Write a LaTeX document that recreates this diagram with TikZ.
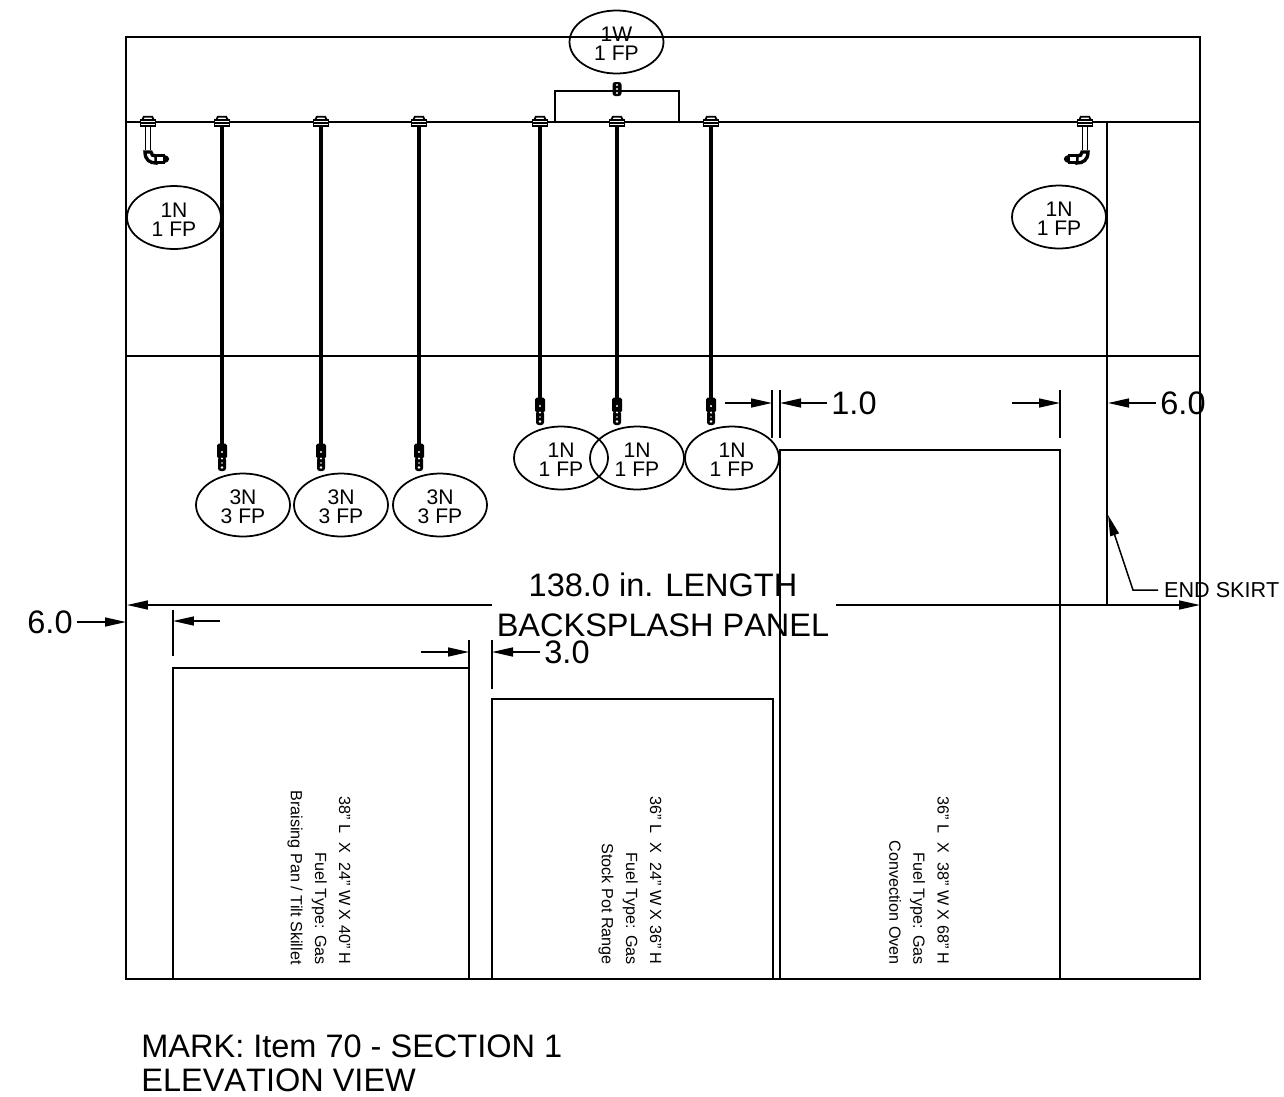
\documentclass[tikz,border=0pt]{standalone}
\usepackage{fontspec}
\setmainfont[Kerning=Off]{Liberation Sans}
\usetikzlibrary{arrows.meta,shapes.geometric,positioning,calc}
\tikzstyle{outlet}=[ellipse, draw=black, line width=1pt, minimum width=1.88cm, minimum height=1.26cm, inner sep=0pt, align=center, font=\fontsize{12}{11}\selectfont]
\tikzstyle{dimtxt}=[inner sep=0pt, outer sep=2.5pt, font=\fontsize{18.5}{22}\selectfont]
\tikzstyle{eqtxt}=[rotate=-90, anchor=east, inner sep=0pt, align=right, font=\fontsize{9.2}{13.7}\selectfont]
\tikzstyle{clamp}=[rectangle, draw=black, fill=white, line width=1.1pt, minimum width=0.3cm, minimum height=0.12cm, inner sep=0pt, outer sep=0pt]
\tikzstyle{tip}=[rectangle, rounded corners=1pt, fill=black, minimum width=0.2cm, minimum height=0.3cm, inner sep=0pt, outer sep=0pt]
\tikzstyle{wall}=[line width=1.05pt]
\tikzstyle{box}=[line width=0.65pt]
\tikzstyle{rod}=[line width=2.4pt]
\tikzstyle{dim}=[line width=0.85pt, -{Triangle[length=0.42cm,width=0.18cm]}]
\newcommand{\hanger}[2]{
	\node[clamp] (#1) at (#2,123) {};
	\draw[line width=1pt,fill=white] ([xshift=-1.15mm]#1.north) -- ++(0.3mm,0.65mm) -- ++(1.7mm,0) -- ++(0.3mm,-0.65mm) -- cycle;
	\draw[line width=1pt] (#1.west) -- (#1.east);
}
\newcommand{\nozzle}[3]{
	\node[tip] (#1) at (#2,#3-6) {};
	\fill[rounded corners=1.5pt] (#2-4,#3) rectangle (#2+4,#3+14);
	\foreach \dy/\rr in {-5/0.7pt,1.5/0.7pt,6/0.55pt,10.5/0.8pt}
		\fill[white] (#2,#3+\dy) circle (\rr);
}
\newcommand{\elbow}[3]{
	\draw[line width=0.9pt] ($(#1.south)+(-2.5,0)$) -- ++(0,24) ($(#1.south)+(2.5,0)$) -- ++(0,24);
	\draw[line width=1.9pt,fill=white] (#2-3*#3,152) .. controls (#2-3*#3,160) and (#2+2*#3,163) .. (#2+8*#3,163) -- (#2+8*#3,156) .. controls (#2+5*#3,156) and (#2+3*#3,155) .. (#2+3*#3,152) -- cycle;
	\draw[line width=1.3pt,fill=white] (#2+8*#3,155.5) rectangle (#2+16*#3,162.5);
	\fill (#2+16*#3,155) .. controls (#2+23*#3,156) and (#2+23*#3,162) .. (#2+16*#3,163) -- cycle;
}
\newcommand{\lab}[2]{\rule{0pt}{10.6pt}#1\\#2}
\begin{document}
\begin{tikzpicture}[x=0.02cm, y=-0.02cm]
	\useasboundingbox (0,0) rectangle (1284,1096);
	%
	\draw[wall] (126,37) rectangle (1200,979);
	\draw[wall] (126,122) -- (1200,122);
	\draw[wall] (126,356) -- (1200,356);
	\draw[wall] (1107,122) -- (1107,605);
	\draw[wall] (555,122) -- (555,91) -- (679,91) -- (679,122);
	%
	\draw[box] (173,979) -- (173,668) -- (469,668) -- (469,979);
	\draw[box] (492,979) -- (492,699) -- (773,699) -- (773,979);
	\draw[box] (780,979) -- (780,450) -- (1060,450) -- (1060,979);
	%
	\hanger{clampA}{148}
	\hanger{clampB}{222}
	\hanger{clampC}{321}
	\hanger{clampD}{419}
	\hanger{clampE}{540}
	\hanger{clampF}{617}
	\hanger{clampG}{711}
	\hanger{clampH}{1085}
	\elbow{clampA}{148}{1}
	\elbow{clampH}{1085}{-1}
	%
	\nozzle{tipB}{222}{457}
	\nozzle{tipC}{321}{457}
	\nozzle{tipD}{419}{457}
	\nozzle{tipE}{540}{411}
	\nozzle{tipF}{617}{411}
	\nozzle{tipG}{711}{411}
	\foreach \a in {B,C,D,E,F,G}
		\draw[rod] (clamp\a.south) -- (tip\a.north);
	%
	\node[tip, minimum width=0.18cm, minimum height=0.28cm, rounded corners=1.5pt] (tipTop) at (617,89) {};
	\foreach \dy/\rr in {-4/0.6pt,0/0.7pt,4/0.7pt}
		\fill[white] (617,89+\dy) circle (\rr);
	%
	\node[outlet] (topW) at (616.5,42) {\lab{1W}{1 FP}};
	\node[outlet] (skirtL) at (174,217.5) {\lab{1N}{1 FP}};
	\node[outlet] (skirtR) at (1059,217) {\lab{1N}{1 FP}};
	\node[outlet] (oneA) at (561,458) {\lab{1N}{1 FP}};
	\node[outlet] (oneB) at (637,458) {\lab{1N}{1 FP}};
	\node[outlet] (oneC) at (732,458) {\lab{1N}{1 FP}};
	\node[outlet] (threeA) at (243,505) {\lab{3N}{3 FP}};
	\node[outlet] (threeB) at (341,505) {\lab{3N}{3 FP}};
	\node[outlet] (threeC) at (440,505) {\lab{3N}{3 FP}};
	%
	\node[dimtxt, outer sep=0pt, align=center, font=\fontsize{18.5}{22.5}\selectfont] (lengthLab) at (663,605) {138.0 in. LENGTH\\BACKSPLASH PANEL};
	\node[dimtxt] (dimOne) at (854,403) {1.0};
	\node[dimtxt] (dimSix) at (1183,403) {6.0};
	\node[dimtxt] (dimSixL) at (50,622) {6.0};
	\node[dimtxt] (dimThree) at (567,652) {3.0};
	\node[inner sep=0pt, outer sep=3.5pt, anchor=west, font=\fontsize{12.3}{14}\selectfont] (skirtLab) at (1158,590) {END SKIRT};
	%
	\coordinate (lenL) at (127,605);
	\coordinate (lenR) at (1200,605);
	\draw[dim] (492,605) -- (lenL);
	\draw[dim] (836,605) -- (lenR);
	%
	\draw[box] (772,390) -- (772,438);
	\draw[box] (780,390) -- (780,438);
	\draw[box] (1060,390) -- (1060,438);
	\draw[box] (173,610) -- (173,656);
	\draw[box] (469,640) -- (469,668);
	\draw[box] (492,640) -- (492,689);
	%
	\draw[dim] (725,403) -- (772,403);
	\draw[dim] (dimOne.west) -- (780,403);
	\draw[dim] (1012,403) -- (1060,403);
	\draw[dim] (dimSix.west) -- (1108,403);
	\draw[dim] (dimSixL.east) -- (126,622);
	\draw[dim] (220,621) -- (173,621);
	\draw[dim] (421,652) -- (469,652);
	\draw[dim] (dimThree.west) -- (492,652);
	\draw[dim] (skirtLab.west) -- (1133,590) -- (1108,515);
	%
	\node[eqtxt] (eqA) at (319,965) {38" L~~X~~24" W X 40" H\\Fuel Type: Gas\\Braising Pan / Tilt Skillet};
	\node[eqtxt] (eqB) at (630,965) {36" L~~X~~24" W X 36" H\\Fuel Type: Gas\\Stock Pot Range};
	\node[eqtxt] (eqC) at (919,965) {36" L~~X~~38" W X 68" H\\Fuel Type: Gas\\Convection Oven};
	%
	\node[inner sep=0pt, anchor=west, align=left, font=\fontsize{18.5}{19.4}\selectfont] (markLab) at (141,1063) {MARK: Item 70 - SECTION 1\\ELEVATION VIEW};
\end{tikzpicture}
\end{document}
